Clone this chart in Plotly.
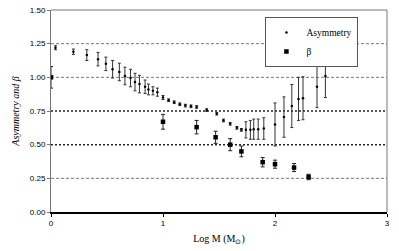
import plotly.graph_objects as go

# Asymmetry data
asym_x = [0.04, 0.20, 0.32, 0.42, 0.49, 0.55, 0.61, 0.66, 0.71, 0.75, 0.79, 0.84, 0.87, 0.91, 0.95,
          1.00, 1.05, 1.10, 1.15, 1.20, 1.25, 1.30, 1.39, 1.48, 1.54, 1.60, 1.66, 1.70,
          1.74, 1.78, 1.81, 1.85, 1.90, 2.00, 2.08, 2.15, 2.21, 2.25, 2.375, 2.45]
asym_y = [1.22, 1.19, 1.165, 1.135, 1.10, 1.06, 1.04, 1.01, 0.995, 0.965, 0.95, 0.93, 0.91, 0.90, 0.89,
          0.85, 0.83, 0.815, 0.80, 0.79, 0.785, 0.78, 0.757, 0.73, 0.68, 0.655, 0.625, 0.61,
          0.61, 0.61, 0.615, 0.615, 0.62, 0.65, 0.705, 0.787, 0.84, 0.845, 0.93, 1.01]
asym_err = [0.015, 0.02, 0.04, 0.05, 0.05, 0.065, 0.065, 0.065, 0.065, 0.065, 0.065, 0.05, 0.04, 0.03, 0.03,
            0.015, 0.01, 0.01, 0.01, 0.01, 0.01, 0.01, 0.01, 0.01, 0.01, 0.01, 0.01, 0.01,
            0.06, 0.07, 0.075, 0.075, 0.08, 0.16, 0.15, 0.16, 0.16, 0.16, 0.155, 0.16]

# Beta data
beta_x = [0.0, 1.0, 1.30, 1.47, 1.60, 1.70, 1.89, 2.00, 2.17, 2.30]
beta_y = [1.00, 0.67, 0.63, 0.555, 0.50, 0.45, 0.37, 0.355, 0.33, 0.26]
beta_err = [0.08, 0.055, 0.05, 0.045, 0.045, 0.04, 0.035, 0.03, 0.03, 0.02]

y_ticks = [0, 0.25, 0.5, 0.75, 1.0, 1.25, 1.5]
y_ticklabels = ["0.00", "0.25", "0.50", "0.75", "1.00", "1.25", "1.50"]
x_ticks = [0, 1, 2, 3]

fig = go.Figure()

# gridlines (dashed)
for yv in y_ticks[1:-1]:
    dark = yv in (0.5, 0.75)
    fig.add_shape(type="line", xref="paper", x0=0, x1=1, yref="y", y0=yv, y1=yv,
                  line=dict(color="#222222" if dark else "#777777",
                            width=1.5 if dark else 1,
                            dash="2px,2px" if dark else "3px,2px"),
                  layer="below")

fig.add_trace(go.Scatter(
    x=asym_x, y=asym_y, mode="markers", name="Asymmetry",
    marker=dict(symbol="circle", size=2.5, color="black"),
    error_y=dict(type="data", array=asym_err, visible=True, color="#333333", thickness=1, width=1.5),
))
fig.add_trace(go.Scatter(
    x=beta_x, y=beta_y, mode="markers", name="β",
    marker=dict(symbol="square", size=4.5, color="black"),
    error_y=dict(type="data", array=beta_err, visible=True, color="#222222", thickness=1, width=2),
))

fig.update_layout(
    width=399, height=251,
    margin=dict(l=51, r=12, t=10, b=39, autoexpand=False),
    paper_bgcolor="white", plot_bgcolor="white",
    font=dict(family="Liberation Sans, Arial", size=8, color="black"),
    showlegend=True,
    legend=dict(
        x=0.915, y=0.965, xanchor="right", yanchor="top",
        bgcolor="white", bordercolor="#555555", borderwidth=1,
        font=dict(family="Liberation Serif, Times New Roman", size=9.5, color="black"),
        itemwidth=30, tracegroupgap=0,
    ),
    xaxis=dict(
        range=[0, 3], tickvals=x_ticks, ticktext=[str(v) for v in x_ticks],
        showgrid=False, zeroline=False, automargin=False, ticklabeloverflow="allow",
        showline=True, linecolor="black", linewidth=1.5, mirror=False,
        ticks="outside", ticklen=3, tickcolor="black",
        title=dict(text="Log M (M<sub>⊙</sub>)", font=dict(family="Liberation Serif, Times New Roman", size=10), standoff=8),
    ),
    yaxis=dict(
        range=[0, 1.5], tickvals=y_ticks, ticktext=y_ticklabels,
        showgrid=False, zeroline=False, automargin=False, ticklabeloverflow="allow",
        showline=True, linecolor="#777777", linewidth=1,
        ticks="outside", ticklen=3, tickcolor="#777777",
        title=dict(text="<i>Asymmetry and β</i>", font=dict(family="Liberation Serif, Times New Roman", size=10), standoff=8),
    ),
)

# right and top border of plot area
fig.add_shape(type="line", xref="paper", yref="paper", x0=1, x1=1, y0=0, y1=1, line=dict(color="#777777", width=1))
fig.add_shape(type="line", xref="paper", yref="paper", x0=0, x1=1, y0=1, y1=1, line=dict(color="#777777", width=1))

# remove the page's default body margin so the 399x251 figure fills the window exactly
fig.write_html("out.html", config={"displayModeBar": False},
               post_script="document.body.style.margin='0';")
